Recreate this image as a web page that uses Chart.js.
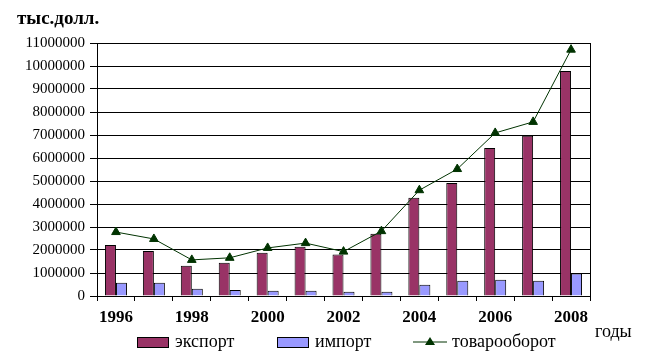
<!DOCTYPE html>
<html>
<head>
<meta charset="utf-8">
<script src="https://cdn.jsdelivr.net/npm/chart.js@4.4.1/dist/chart.umd.min.js"></script>
<style>
  body { margin: 0; background: #fff; }
  #wrap { position: relative; width: 649px; height: 359px; font-family: "Liberation Serif", "Times New Roman", serif; }
  canvas { position: absolute; left: 0; top: 0; }
  .lbl { position: absolute; white-space: nowrap; color: #000; font-family: "Liberation Serif", serif; }
  .box { position: absolute; width: 30px; height: 9px; border: 1px solid #000; }
</style>
</head>
<body>
<div id="wrap">
  <canvas id="chart" width="649" height="359"></canvas>
  <div class="lbl" style="left:17px; top:7px; font-size:19px; font-weight:bold;">тыс.долл.</div>
  <div class="lbl" style="left:595px; top:321px; font-size:18px;">годы</div>

  <div class="box" style="left:137px; top:337px; background:#993366;"></div>
  <div class="lbl" style="left:175px; top:331px; font-size:18px;">экспорт</div>
  <div class="box" style="left:277px; top:337px; background:#9999ff;"></div>
  <div class="lbl" style="left:315px; top:331px; font-size:18px;">импорт</div>
  <svg style="position:absolute; left:413px; top:336px;" width="36" height="12">
    <line x1="0" y1="6" x2="34" y2="6" stroke="#003300" stroke-width="1"/>
    <polygon points="17,1 22,9 12,9" fill="#003300"/>
  </svg>
  <div class="lbl" style="left:452px; top:331px; font-size:18px;">товарооборот</div>
</div>
<script>
const years = ['1996', '1997', '1998', '1999', '2000', '2001', '2002', '2003', '2004', '2005', '2006', '2007', '2008'];
const exportValues = [2220000, 1960000, 1320000, 1450000, 1880000, 2140000, 1800000, 2710000, 4270000, 4910000, 6430000, 6970000, 9780000];
const importValues = [580000, 580000, 320000, 260000, 230000, 230000, 190000, 190000, 490000, 660000, 710000, 660000, 980000];
const turnoverValues = [2780000, 2480000, 1570000, 1660000, 2090000, 2300000, 1930000, 2820000, 4600000, 5520000, 7090000, 7570000, 10710000];

// frame round the plot area (right edge)
const frame = {
    id: 'frame',
    afterDatasetsDraw: (chart) => {
        const { ctx, chartArea } = chart;
        ctx.save();
        ctx.strokeStyle = '#000';
        ctx.lineWidth = 1;
        ctx.beginPath();
        ctx.moveTo(Math.round(chartArea.right) + 0.5, chartArea.top);
        ctx.lineTo(Math.round(chartArea.right) + 0.5, chartArea.bottom);
        ctx.stroke();
        ctx.restore();
    },
};

const ctx = document.getElementById('chart').getContext('2d');
new Chart(ctx, {
    type: 'bar',
    data: {
        labels: years,
        datasets: [
            {
                type: 'line',
                label: 'товарооборот',
                data: turnoverValues,
                order: 0,
                borderColor: '#003300',
                borderWidth: 1,
                backgroundColor: '#003300',
                pointStyle: 'triangle',
                pointRadius: 5,
                pointBackgroundColor: '#003300',
                pointBorderColor: '#003300',
                tension: 0,
            },
            {
                label: 'экспорт',
                data: exportValues,
                order: 1,
                backgroundColor: '#993366',
                borderColor: '#000',
                borderWidth: 1,
                categoryPercentage: 0.58,
                barPercentage: 1.0,
            },
            {
                label: 'импорт',
                data: importValues,
                order: 1,
                backgroundColor: '#9999ff',
                borderColor: '#000',
                borderWidth: 1,
                categoryPercentage: 0.58,
                barPercentage: 1.0,
            },
        ],
    },
    options: {
        responsive: false,
        animation: false,
        layout: { padding: { left: 0, right: 59, top: 43, bottom: 33 } },
        plugins: {
            legend: { display: false },
            tooltip: { enabled: false },
        },
        scales: {
            x: {
                afterFit: (scale) => { scale.height = 30; },
                grid: {
                    display: true,
                    offset: true,
                    drawOnChartArea: false,
                    tickLength: 5,
                    color: '#000',
                },
                border: { display: true, color: '#000' },
                ticks: {
                    autoSkip: false,
                    maxRotation: 0,
                    padding: 6,
                    color: '#000',
                    font: { family: '"Liberation Serif", serif', size: 17, weight: 'bold' },
                    callback: (value, index) => (index % 2 === 0 ? years[index] : ''),
                },
            },
            y: {
                min: 0,
                max: 11000000,
                afterFit: (scale) => { scale.width = 97; },
                grid: { color: '#000', tickLength: 7 },
                border: { display: true, color: '#000' },
                ticks: {
                    stepSize: 1000000,
                    padding: 5,
                    color: '#000',
                    font: { family: '"Liberation Serif", serif', size: 15 },
                    callback: (value) => String(value),
                },
            },
        },
    },
    plugins: [frame],
});
</script>
</body>
</html>
